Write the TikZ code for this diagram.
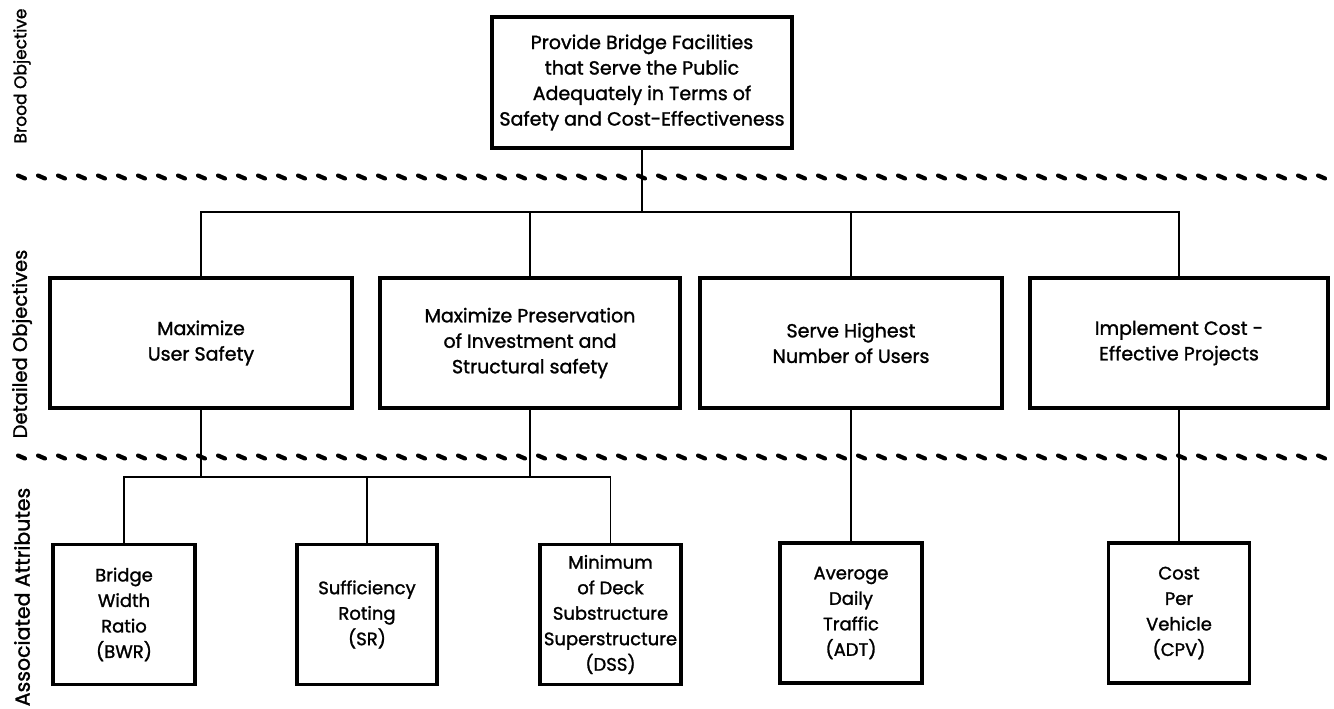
\documentclass[tikz,border=0pt]{standalone}
\usepackage{fontspec}
\setmainfont{Poppins}[FakeBold=1.4]
\newcommand{\boxtextfont}{\fontsize{19}{25.5}\selectfont}
\newcommand{\attrtextfont}{\fontsize{18}{25.5}\selectfont}
\begin{document}
\begin{tikzpicture}[x=1pt, y=-1pt,
  objbox/.style={draw, line width=3.2pt, align=center, inner sep=0pt,
                 font=\boxtextfont},
  attrbox/.style={objbox, font=\attrtextfont, minimum width=141pt, minimum height=140pt},
  detbox/.style={objbox, minimum width=300pt, minimum height=130pt},
  link/.style={line width=1.8pt},
  sepdash/.style={line width=4.2pt, line cap=round},
  sidelabel/.style={rotate=90, inner sep=0pt}]
\useasboundingbox (0,0) rectangle (1334,709);

% level separators
\foreach \i in {0,...,65} {
  \draw[sepdash] ({18+20*\i},175.5) -- ++(7,3);
  \draw[sepdash] ({18+20*\i},455.5) -- ++(7,3);
}

% level captions
\node[sidelabel, font=\fontsize{17}{20}\selectfont] (lab1) at (22,76) {Brood Objective};
\node[sidelabel, font=\fontsize{19.5}{22}\selectfont] (lab2) at (22,344) {Detailed Objectives};
\node[sidelabel, font=\fontsize{20.5}{22}\selectfont] (lab3) at (22,597) {Associated Attributes};

% broad objective
\node[objbox, minimum width=300pt, minimum height=131pt] (top) at (642,82.5)
  {Provide Bridge Facilities\\that Serve the Public\\Adequately in Terms of\\Safety and Cost-Effectiveness};

% detailed objectives
\node[detbox, minimum width=302pt] (d1) at (201,343) {Maximize\\User Safety};
\node[detbox] (d2) at (530,343) {Maximize Preservation\\of Investment and\\Structural safety};
\node[detbox, minimum width=302pt] (d3) at (851,343) {Serve Highest\\Number of Users};
\node[detbox, minimum width=298pt] (d4) at (1179,343) {Implement Cost -\\Effective Projects};

% associated attributes
\node[attrbox, minimum width=142pt] (a1) at (124,614.5) {Bridge\\Width\\Ratio\\(BWR)};
\node[attrbox, minimum width=140pt] (a2) at (367,614.5) {Sufficiency\\Roting\\(SR)};
\node[attrbox] (a3) at (610.5,614.5) {Minimum\\of Deck\\Substructure\\Superstructure\\(DSS)};
\node[attrbox, minimum width=142pt] (a4) at (851,613) {Averoge\\Daily\\Traffic\\(ADT)};
\node[attrbox] (a5) at (1179,613) {Cost\\Per\\Vehicle\\(CPV)};

% bus lines
\coordinate (busA) at (0,212);
\coordinate (busB) at (0,477);

% broad objective to detailed objectives
\draw[link] (top.south) -- (top.south |- busA);
\draw[link] (d1.north) -- (d1.north |- busA) -- (d4.north |- busA) -- (d4.north);
\draw[link] (d2.north) -- (d2.north |- busA);
\draw[link] (d3.north) -- (d3.north |- busA);

% detailed objectives to attributes
\draw[link] (d1.south) -- (d1.south |- busB);
\draw[link] (d2.south) -- (d2.south |- busB);
\draw[link] (a1.north) -- (a1.north |- busB) -- (a3.north |- busB) -- (a3.north);
\draw[link] (a2.north) -- (a2.north |- busB);
\draw[link] (d3.south) -- (a4.north);
\draw[link] (d4.south) -- (a5.north);
\end{tikzpicture}
\end{document}
